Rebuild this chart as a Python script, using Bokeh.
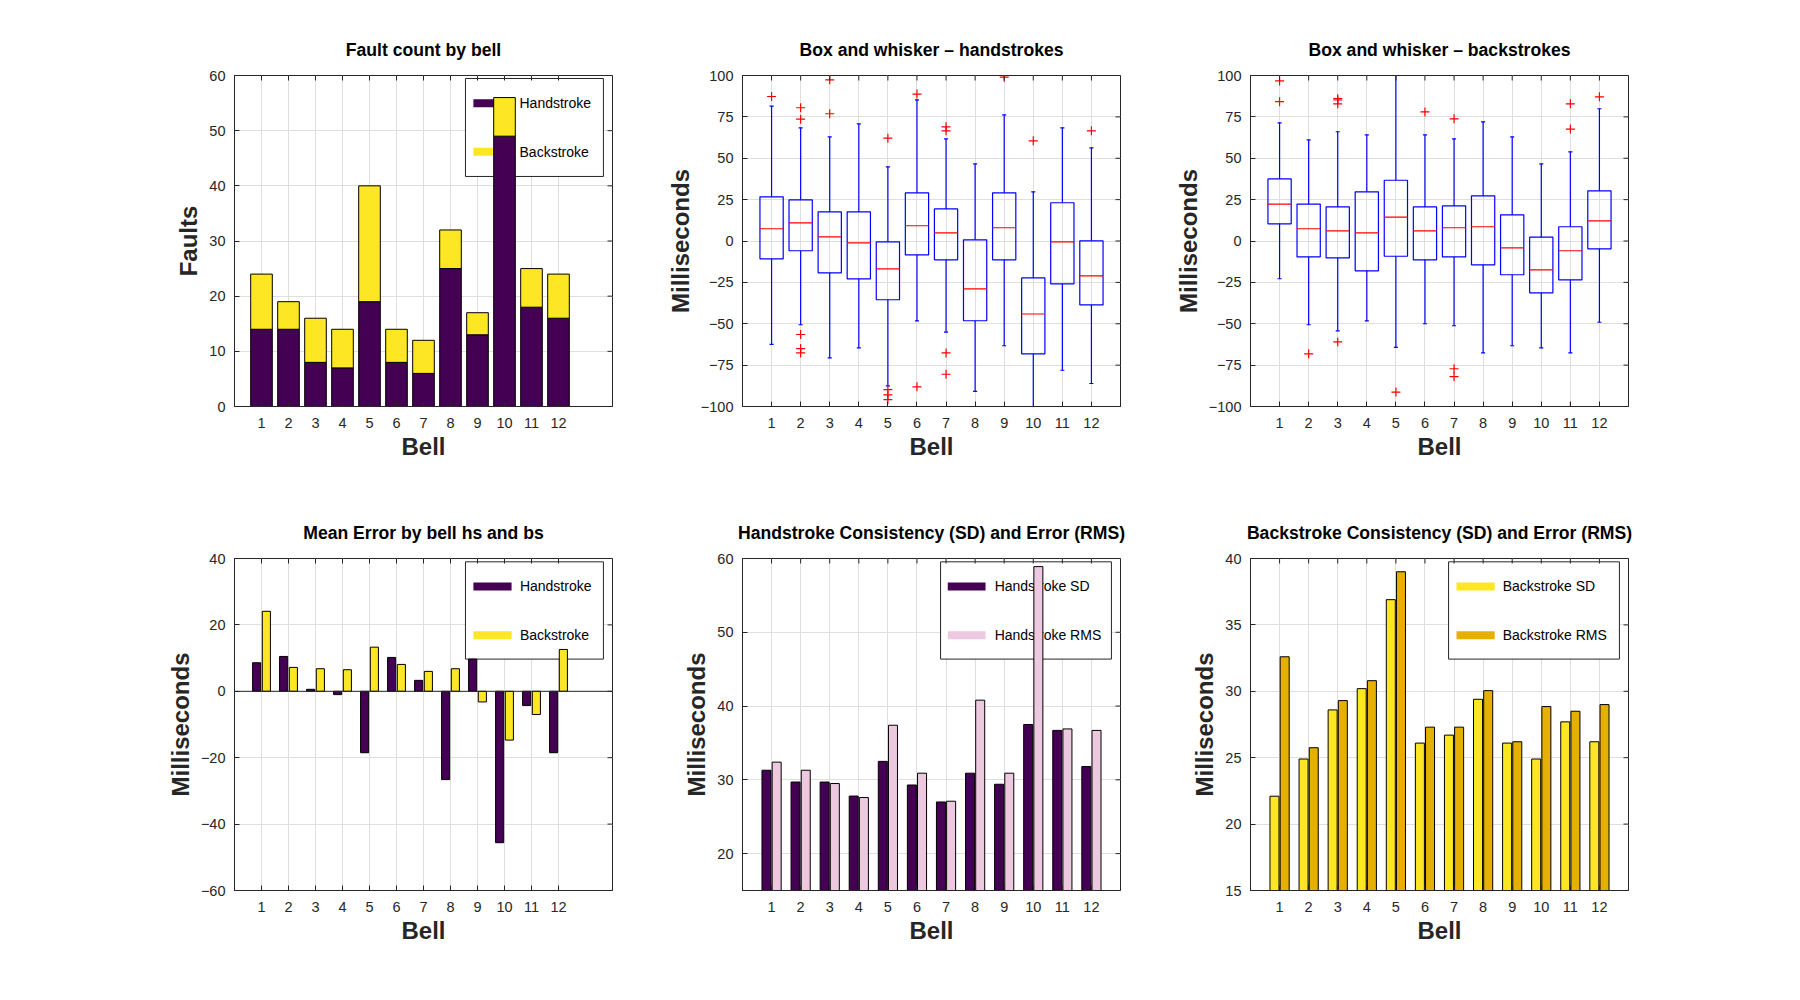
import numpy as np
from bokeh.plotting import figure
from bokeh.models import FixedTicker, Range1d, Span, CustomJSTickFormatter
from bokeh.layouts import column, row
from bokeh.embed import file_html
from bokeh.resources import INLINE
from bokeh.core.properties import value

# ---------------- data ----------------
bells = list(range(1, 13))

fault_hs = [14, 14, 8, 7, 19, 8, 6, 25, 13, 49, 18, 16]
fault_bs = [10, 5, 8, 7, 21, 6, 6, 7, 4, 7, 7, 8]

mean_hs = [8.6, 10.5, 0.6, -1.0, -18.5, 10.2, 3.3, -26.6, 9.7, -45.6, -4.3, -18.5]
mean_bs = [24.1, 7.2, 6.8, 6.5, 13.3, 8.1, 6.0, 6.8, -3.2, -14.7, -7.0, 12.6]

hs_sd = [31.3, 29.7, 29.7, 27.8, 32.5, 29.3, 27.0, 30.9, 29.4, 37.5, 36.7, 31.8]
hs_rms = [32.4, 31.3, 29.5, 27.6, 37.4, 30.9, 27.1, 40.8, 30.9, 58.9, 36.9, 36.7]
bs_sd = [22.1, 24.9, 28.6, 30.2, 36.9, 26.1, 26.7, 29.4, 26.1, 24.9, 27.7, 26.2]
bs_rms = [32.6, 25.75, 29.3, 30.8, 39.0, 27.3, 27.3, 30.05, 26.2, 28.85, 28.5, 29.0]

hs_lo = [-62.5, -50.6, -70.6, -64.6, -87.5, -48.3, -55.0, -90.9, -63.3, -104.0, -78.1, -86.1]
hs_q1 = [-10.8, -5.9, -19.2, -22.9, -35.5, -8.4, -11.4, -48.2, -11.4, -68.2, -25.9, -38.6]
hs_med = [7.4, 11.0, 2.5, -1.1, -16.8, 9.2, 4.9, -28.9, 8.0, -44.1, -0.5, -21.1]
hs_q3 = [26.7, 24.9, 17.6, 17.6, -0.5, 29.1, 19.4, 0.7, 29.1, -22.3, 23.1, 0.1]
hs_hi = [81.5, 68.4, 62.9, 70.8, 44.8, 85.3, 61.7, 46.6, 76.2, 29.7, 68.4, 56.3]
hs_out_bell = [1, 2, 2, 2, 2, 2, 3, 3, 5, 5, 5, 5, 6, 6, 7, 7, 7, 7, 9, 10, 12]
hs_out_val = [87.3, 80.5, 73.6, -56.5, -65.0, -67.6, 97.4, 76.9, 62.1, -89.8, -93.0, -95.8,
              88.8, -88.1, 69.0, 66.6, -67.6, -80.5, 99.0, 60.5, 66.6]

bs_lo = [-22.8, -50.6, -54.3, -48.3, -64.3, -50.0, -51.2, -67.6, -63.3, -64.6, -67.6, -49.1]
bs_q1 = [10.4, -9.6, -10.2, -18.0, -9.2, -11.4, -9.6, -14.4, -20.4, -31.3, -23.5, -4.7]
bs_med = [22.3, 7.4, 6.1, 4.9, 14.4, 6.1, 8.0, 8.6, -4.1, -17.4, -5.9, 12.2]
bs_q3 = [37.5, 22.3, 20.6, 29.7, 36.7, 20.6, 21.2, 27.3, 15.8, 2.3, 8.6, 30.3]
bs_hi = [71.4, 61.1, 66.0, 64.1, 104.0, 64.1, 61.7, 72.0, 62.9, 46.6, 53.9, 79.9]
bs_out_bell = [1, 1, 2, 3, 3, 3, 3, 5, 6, 7, 7, 7, 11, 11, 11, 12]
bs_out_val = [96.7, 84.2, -68.2, 86.0, 85.2, 82.9, -61.0, -91.3, 78.0, 73.8, -77.2, -82.0,
              82.9, 67.6, -100.0, 87.1]

# ---------------- style ----------------
FONT = "Liberation Sans"
TXT = "#262626"
PURPLE = "#440154"
YELLOW = "#FDE725"
PINK = "#EDC9E0"
GOLD = "#E6B000"
GRID = "#DFDFDF"
FW = 378
TICK = 5

minus_fmt = CustomJSTickFormatter(code="return tick < 0 ? '\u2212' + Math.abs(tick) : '' + tick;")


def base_fig(xmax, y0, y1, yticks, title, ylabel, bl, br, bt, bb, fh):
    p = figure(frame_width=FW, frame_height=fh,
               x_range=Range1d(0, xmax), y_range=Range1d(y0, y1),
               output_backend="svg", toolbar_location=None,
               min_border_left=bl, min_border_right=br,
               min_border_top=bt, min_border_bottom=bb,
               background_fill_color="white", border_fill_color="white",
               title=title)
    p.title.align = "center"
    p.title.text_font = FONT
    p.title.text_font_size = "17.6px"
    p.title.text_font_style = "bold"
    p.title.text_color = "black"
    p.title.standoff = 31
    p.outline_line_color = TXT
    p.outline_line_alpha = 1
    p.outline_line_width = 1

    p.xaxis.ticker = FixedTicker(ticks=bells)
    p.yaxis.ticker = FixedTicker(ticks=yticks)
    p.yaxis.formatter = minus_fmt
    p.xaxis.axis_label = "Bell"
    p.yaxis.axis_label = ylabel
    for ax in (p.xaxis[0], p.yaxis[0]):
        ax.axis_label_text_font = FONT
        ax.axis_label_text_font_size = "24px"
        ax.axis_label_text_font_style = "bold"
        ax.axis_label_text_color = TXT
        ax.major_label_text_font = FONT
        ax.major_label_text_font_size = "14.5px"
        ax.major_label_text_color = TXT
        ax.major_tick_in = TICK
        ax.major_tick_out = 0
        ax.major_tick_line_color = TXT
        ax.minor_tick_line_color = None
        ax.axis_line_color = TXT
    p.xaxis.major_label_standoff = 11
    p.xaxis.axis_label_standoff = 2
    p.yaxis.major_label_standoff = 9
    p.yaxis.axis_label_standoff = 4

    p.xgrid.ticker = FixedTicker(ticks=bells)
    p.ygrid.ticker = FixedTicker(ticks=yticks)
    p.grid.grid_line_color = GRID
    p.grid.grid_line_width = 1
    return p


def frame_ticks(p, xr, yr, fh, yticks):
    # inward tick marks on the top and right edges of the box
    x0, x1 = xr
    y0, y1 = yr
    ty = TICK / fh * (y1 - y0)
    tx = TICK / FW * (x1 - x0)
    bx = np.array(bells, dtype=float)
    p.segment(x0=bx, x1=bx, y0=[y1] * len(bx), y1=[y1 - ty] * len(bx),
              line_color=TXT, line_width=1)
    yt = np.array(yticks, dtype=float)
    p.segment(x0=[x1] * len(yt), x1=[x1 - tx] * len(yt), y0=yt, y1=yt,
              line_color=TXT, line_width=1)


def manual_legend(p, xr, yr, fh, fl, fr, ft, fb, sw0, sw1, tx, ys, entries):
    x0, x1 = xr
    y0, y1 = yr
    X = lambda f: x0 + f * (x1 - x0)
    Y = lambda f: y1 - f * (y1 - y0)
    p.quad(left=[X(fl)], right=[X(fr)], top=[Y(ft)], bottom=[Y(fb)],
           fill_color="white", line_color=TXT, line_width=1)
    half = 4.0 / fh * (y1 - y0)
    for (label, color), fy in zip(entries, ys):
        p.quad(left=[X(sw0)], right=[X(sw1)], top=[Y(fy) + half], bottom=[Y(fy) - half],
               fill_color=color, line_color=None)
        p.text(x=[X(tx)], y=[Y(fy)], text=[label], text_baseline="middle", text_align="left",
               text_font=value(FONT), text_font_size="14px", text_color="black")


def box_plot(p, lo, q1, med, q3, hi, ob, ov):
    bx = np.array(bells, dtype=float)
    hw = 0.4
    cw = 0.07
    p.segment(x0=bx, y0=q3, x1=bx, y1=hi, line_color="blue", line_width=1.2)
    p.segment(x0=bx, y0=q1, x1=bx, y1=lo, line_color="blue", line_width=1.2)
    p.segment(x0=bx - cw, y0=hi, x1=bx + cw, y1=hi, line_color="blue", line_width=1.2)
    p.segment(x0=bx - cw, y0=lo, x1=bx + cw, y1=lo, line_color="blue", line_width=1.2)
    p.quad(left=bx - hw, right=bx + hw, bottom=q1, top=q3, fill_color=None,
           line_color="blue", line_width=1.2)
    p.segment(x0=bx - hw, y0=med, x1=bx + hw, y1=med, line_color="red", line_width=1.2)
    p.scatter(x=ob, y=ov, marker="cross", size=9, line_color="red", line_width=1.2)


TOP_FH = 331
BOT_FH = 332
LB1 = 234
TB1 = 75
b = np.array(bells, dtype=float)

# --- 1: fault count ---
yt1 = [0, 10, 20, 30, 40, 50, 60]
p1 = base_fig(14, 0, 60, yt1, "Fault count by bell", "Faults", LB1, 30, TB1, 70, TOP_FH)
manual_legend(p1, (0, 14), (0, 60), TOP_FH, 0.611, 0.976, 0.009, 0.305, 0.632, 0.733, 0.754,
              [0.0837, 0.2305], [("Handstroke", PURPLE), ("Backstroke", YELLOW)])
fh_ = np.array(fault_hs)
fb_ = np.array(fault_bs)
p1.vbar(x=b, width=0.8, bottom=0, top=fh_, fill_color=PURPLE, line_color="black", line_width=1)
p1.vbar(x=b, width=0.8, bottom=fh_, top=fh_ + fb_, fill_color=YELLOW, line_color="black", line_width=1)
frame_ticks(p1, (0, 14), (0, 60), TOP_FH, yt1)

# --- 2: box hs ---
yt_box = [-100, -75, -50, -25, 0, 25, 50, 75, 100]
p2 = base_fig(13, -100, 100, yt_box, "Box and whisker \u2013 handstrokes", "Milliseconds",
              100, 30, TB1, 70, TOP_FH)
box_plot(p2, hs_lo, hs_q1, hs_med, hs_q3, hs_hi, hs_out_bell, hs_out_val)
frame_ticks(p2, (0, 13), (-100, 100), TOP_FH, yt_box)

# --- 3: box bs ---
p3 = base_fig(13, -100, 100, yt_box, "Box and whisker \u2013 backstrokes", "Milliseconds",
              100, 30, TB1, 70, TOP_FH)
box_plot(p3, bs_lo, bs_q1, bs_med, bs_q3, bs_hi, bs_out_bell, bs_out_val)
frame_ticks(p3, (0, 13), (-100, 100), TOP_FH, yt_box)

# --- 4: mean error ---
yt4 = [-60, -40, -20, 0, 20, 40]
p4 = base_fig(14, -60, 40, yt4, "Mean Error by bell hs and bs",
              "Milliseconds", LB1, 30, 82, 70, BOT_FH)
manual_legend(p4, (0, 14), (-60, 40), BOT_FH, 0.611, 0.976, 0.010, 0.303, 0.632, 0.733, 0.755,
              [0.084, 0.231], [("Handstroke", PURPLE), ("Backstroke", YELLOW)])
p4.vbar(x=b - 0.18, width=0.3, bottom=0, top=mean_hs, fill_color=PURPLE, line_color="black")
p4.vbar(x=b + 0.18, width=0.3, bottom=0, top=mean_bs, fill_color=YELLOW, line_color="black")
p4.add_layout(Span(location=0, dimension="width", line_color=TXT, line_width=1))
frame_ticks(p4, (0, 14), (-60, 40), BOT_FH, yt4)

# --- 5: hs sd / rms ---
yt5 = [20, 30, 40, 50, 60]
p5 = base_fig(13, 15, 60, yt5, "Handstroke Consistency (SD) and Error (RMS)",
              "Milliseconds", 100, 30, 82, 70, BOT_FH)
manual_legend(p5, (0, 13), (15, 60), BOT_FH, 0.524, 0.976, 0.010, 0.303, 0.543, 0.643, 0.667,
              [0.084, 0.231], [("Handstroke SD", PURPLE), ("Handstroke RMS", PINK)])
p5.vbar(x=b - 0.175, width=0.31, bottom=0, top=hs_sd, fill_color=PURPLE, line_color="black")
p5.vbar(x=b + 0.175, width=0.31, bottom=0, top=hs_rms, fill_color=PINK, line_color="black")
frame_ticks(p5, (0, 13), (15, 60), BOT_FH, yt5)

# --- 6: bs sd / rms ---
yt6 = [15, 20, 25, 30, 35, 40]
p6 = base_fig(13, 15, 40, yt6, "Backstroke Consistency (SD) and Error (RMS)",
              "Milliseconds", 100, 30, 82, 70, BOT_FH)
manual_legend(p6, (0, 13), (15, 40), BOT_FH, 0.524, 0.976, 0.010, 0.303, 0.545, 0.646, 0.667,
              [0.084, 0.231], [("Backstroke SD", YELLOW), ("Backstroke RMS", GOLD)])
p6.vbar(x=b - 0.175, width=0.31, bottom=0, top=bs_sd, fill_color=YELLOW, line_color="black")
p6.vbar(x=b + 0.175, width=0.31, bottom=0, top=bs_rms, fill_color=GOLD, line_color="black")
frame_ticks(p6, (0, 13), (15, 40), BOT_FH, yt6)

layout = column(row(p1, p2, p3), row(p4, p5, p6))

with open("out.html", "w", encoding="utf-8") as f:
    f.write(file_html(layout, INLINE, title="Bell ringing analysis"))
